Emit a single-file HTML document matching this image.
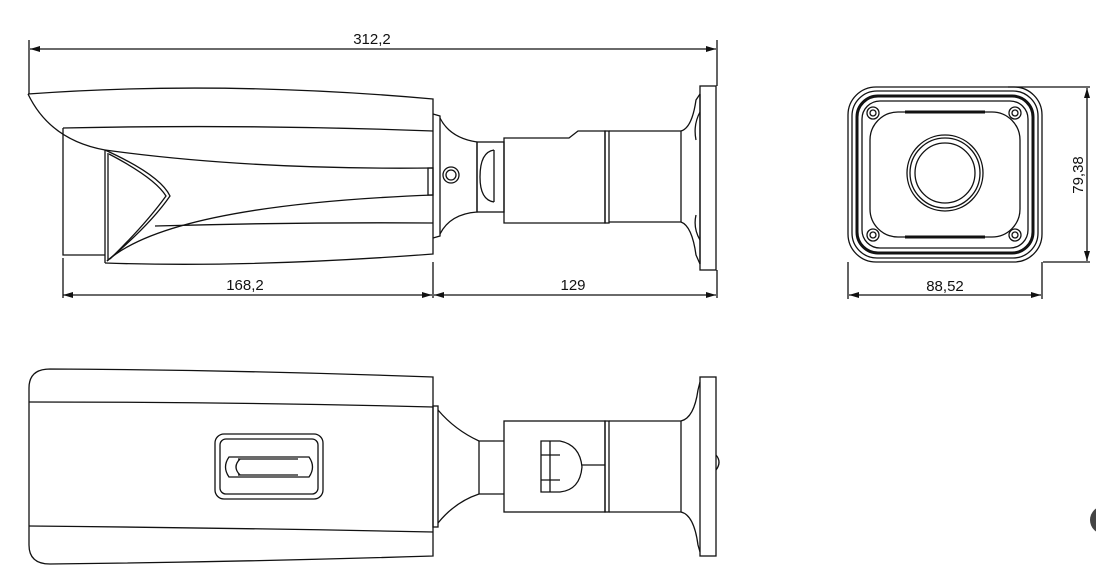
<!DOCTYPE html>
<html><head><meta charset="utf-8"><style>
html,body{margin:0;padding:0;background:#fff;width:1096px;height:572px;overflow:hidden}
svg{display:block}
text{font-family:"Liberation Sans",sans-serif;font-size:15px;fill:#111}
</style></head><body>
<svg width="1096" height="572" viewBox="0 0 1096 572" xmlns="http://www.w3.org/2000/svg">
<defs>
<marker id="a" viewBox="0 0 10 6" refX="10" refY="3" markerWidth="10" markerHeight="6" orient="auto-start-reverse" markerUnits="userSpaceOnUse"><path d="M0,0 L10,3 L0,6 z" fill="#111"/></marker>
</defs>
<g fill="none" stroke="#111" stroke-width="1.3">
<line x1="30" y1="49" x2="716" y2="49" marker-start="url(#a)" marker-end="url(#a)"/>
<line x1="29" y1="40" x2="29" y2="94"/>
<line x1="717" y1="40" x2="717" y2="86"/>
<line x1="63" y1="295" x2="432" y2="295" marker-start="url(#a)" marker-end="url(#a)"/>
<line x1="434" y1="295" x2="716" y2="295" marker-start="url(#a)" marker-end="url(#a)"/>
<line x1="63" y1="258" x2="63" y2="298"/>
<line x1="433" y1="262" x2="433" y2="298"/>
<line x1="717" y1="270" x2="717" y2="298"/>

<path d="M28,94 Q220,80 433,99 L433,254 Q250,268 105,263"/>
<path d="M28,94 Q50,140 105,150"/>
<path d="M63,128 Q250,124 433,131"/>
<path d="M63,128 L63,255 L105,255"/>
<path d="M105,150 L105,263"/>
<path d="M108,153 L108,260"/>
<path d="M105,150 Q250,170 433,168"/>
<path d="M105,150 Q160,175 170,196 Q150,225 107,261"/>
<path d="M109,154 Q155,178 166,196 Q145,225 110,259"/>
<path d="M107,261 Q170,205 433,195"/>
<path d="M155,226 Q300,222 433,223"/>
<rect x="428" y="168" width="5" height="27"/>
<path d="M433,114 L440,116 L440,236 L433,238"/>
<path d="M440,118 Q450,138 477,142 L477,212 Q450,214 440,234"/>
<rect x="477" y="142" width="27" height="70"/>
<path d="M494,150 Q480,152 480,177 Q480,200 494,202"/>
<line x1="494" y1="150" x2="494" y2="202"/>
<circle cx="451" cy="175" r="8"/><circle cx="451" cy="175" r="5"/>
<path d="M504,138 L569,138 L578,131 L605,131 L605,223 L504,223 Z"/>
<rect x="605" y="131" width="4" height="92"/>
<path d="M609,131 L681,131 L681,222 L609,222"/>
<path d="M681,131 Q692,128 696,100 L700,94 M681,222 Q692,226 696,255 L700,264"/>
<path d="M700,94 L700,264"/>
<rect x="700" y="86" width="16" height="184"/>
<path d="M700,112 Q693,125 696,140 M700,240 Q693,228 696,215"/>

<path d="M50,369 Q240,370 433,377 L433,556 Q240,562 50,564 Q29,564 29,545 L29,388 Q29,369 50,369 Z"/>
<path d="M29,402 Q240,402 433,407"/>
<path d="M29,526 Q240,528 433,532"/>
<rect x="215" y="434" width="108" height="65" rx="9"/>
<rect x="220" y="439" width="98" height="55" rx="6"/>
<path d="M229,457 L309,457 Q316,467 309,477 L229,477 Q222,467 229,457 Z"/>
<path d="M238,459 L298,459 M238,475 L298,475"/>
<path d="M240,459 Q232,467 240,475"/>
<rect x="433" y="406" width="5" height="121"/>
<path d="M438,410 Q455,430 479,441 L504,441 M438,523 Q455,502 479,494 L504,494"/>
<path d="M479,441 L479,494"/>
<rect x="504" y="421" width="101" height="91"/>
<path d="M541,441 L560,441 Q580,445 582,467 Q580,490 560,492 L541,492 Z"/>
<line x1="550" y1="441" x2="550" y2="492"/>
<line x1="541" y1="455" x2="560" y2="455"/><line x1="541" y1="480" x2="560" y2="480"/>
<line x1="582" y1="465" x2="605" y2="465"/>
<rect x="605" y="421" width="4" height="91"/>
<path d="M609,421 L681,421 L681,512 L609,512"/>
<path d="M681,421 Q694,418 698,390 L700,382 M681,512 Q694,515 698,545 L700,552"/>
<rect x="700" y="377" width="16" height="179"/>
<path d="M716,455 Q722,462 716,470"/>

<line x1="1008" y1="87" x2="1090" y2="87"/>
<line x1="1043" y1="262" x2="1090" y2="262"/>
<line x1="1087" y1="88" x2="1087" y2="261" marker-start="url(#a)" marker-end="url(#a)"/>
<line x1="848" y1="262" x2="848" y2="299"/>
<line x1="1042" y1="262" x2="1042" y2="299"/>
<line x1="849" y1="295" x2="1041" y2="295" marker-start="url(#a)" marker-end="url(#a)"/>
<rect x="848" y="87" width="194" height="175" rx="28"/>
<rect x="852" y="91" width="186" height="167" rx="25"/>
<rect x="857" y="96" width="176" height="157" rx="21" stroke-width="3"/>
<rect x="862" y="101" width="166" height="147" rx="18"/>
<rect x="870" y="112" width="150" height="125" rx="28"/>
<line x1="905" y1="112" x2="985" y2="112" stroke-width="3"/>
<line x1="905" y1="237" x2="985" y2="237" stroke-width="3"/>
<circle cx="945" cy="173" r="38"/><circle cx="945" cy="173" r="35"/><circle cx="945" cy="173" r="30"/>
<circle cx="873" cy="113" r="6"/><circle cx="873" cy="113" r="3"/>
<circle cx="1015" cy="113" r="6"/><circle cx="1015" cy="113" r="3"/>
<circle cx="873" cy="235" r="6"/><circle cx="873" cy="235" r="3"/>
<circle cx="1015" cy="235" r="6"/><circle cx="1015" cy="235" r="3"/>
</g>
<circle cx="1104" cy="520" r="14" fill="#444"/>
<text x="372" y="44" text-anchor="middle">312,2</text>
<text x="245" y="290" text-anchor="middle">168,2</text>
<text x="573" y="290" text-anchor="middle">129</text>
<text x="945" y="291" text-anchor="middle">88,52</text>
<text transform="translate(1083,175) rotate(-90)" text-anchor="middle">79,38</text>
</svg>
</body></html>
